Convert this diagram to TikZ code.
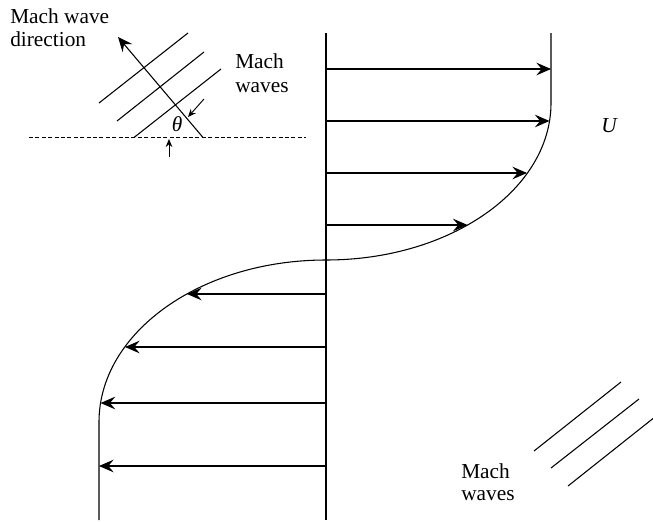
\documentclass[tikz,border=0pt]{standalone}
\usepackage{fontspec}
\setmainfont{Liberation Serif}
\usepackage{tikz}
\usetikzlibrary{arrows.meta, positioning}

\begin{document}
\begin{tikzpicture}[
    x=0.75pt, y=-0.75pt,
    line/.style={line width=0.8pt},
    vel/.style={line width=0.8pt, -{Stealth[length=11pt, width=9.5pt, inset=4pt]}},
    small arrow/.style={line width=0.7pt, -{Stealth[length=6pt, width=5pt, inset=2pt]}},
    label/.style={font=\fontsize{16}{17.8}\selectfont, align=left, inner sep=0pt, anchor=north west},
]
    \useasboundingbox (0,0) rectangle (653,521);

    % Axis and velocity profile
    \draw[line] (326,33) -- (326,520);
    \draw[line] (551,33) -- (551,103)
        arc[start angle=0, end angle=90, x radius=225, y radius=157]
        arc[start angle=-90, end angle=-180, x radius=227, y radius=162]
        -- (99,520);
    \foreach \y/\x in {69/551, 121/549.5, 173/527, 225/467.6}
        \draw[vel] (326,\y) -- (\x,\y);
    \foreach \y/\x in {294/187, 347/125, 403/100.6, 466/99}
        \draw[vel] (326,\y) -- (\x,\y);
    \node[font=\fontsize{16}{18}\selectfont\itshape] (u) at (609,126) {U};

    % Mach waves, upper left
    \draw[line width=0.6pt, dash pattern=on 3pt off 1.8pt] (29,137.5) -- (306,137.5);
    \draw[line] (99,103) -- (188,33);
    \draw[line] (117,121) -- (204,52);
    \draw[line] (134,137.5) -- (221,69);
    \draw[vel] (203,137.5) -- (118,37);
    \draw[small arrow] (204,99) -- (188,117);
    \draw[small arrow] (169,157) -- (169,139);
    \node[font=\fontsize{16}{18}\selectfont\itshape] (theta) at (177,124) {θ};
    \node[label] (dir) at (10,8) {Mach wave\\direction};
    \node[label] (waves1) at (235,53.5) {Mach\\waves};

    % Mach waves, lower right
    \draw[line] (534,451) -- (621,382);
    \draw[line] (551,468) -- (639,399);
    \draw[line] (568,486) -- (653,418.5);
    \node[label, font=\fontsize{16}{16.5}\selectfont] (waves2) at (461,463.5) {Mach\\waves};
\end{tikzpicture}
\end{document}
